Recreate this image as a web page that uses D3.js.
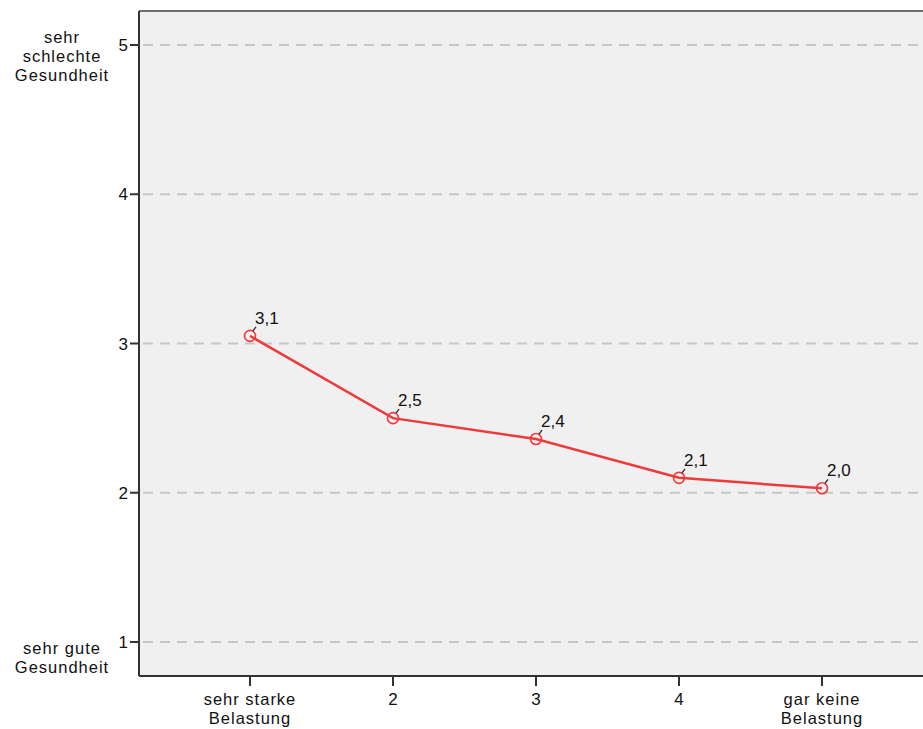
<!DOCTYPE html>
<html><head><meta charset="utf-8">
<script src="https://cdn.jsdelivr.net/npm/d3@7"></script>
<style>body{margin:0;background:#fff}svg{display:block}text{font-family:"Liberation Sans",Arial,sans-serif;font-size:17px;fill:#111}text.word{font-size:16.5px;letter-spacing:1px}</style>
</head><body>
<script>
const categories = [["sehr starke","Belastung"],["2"],["3"],["4"],["gar keine","Belastung"]];
const values = [3.051, 2.50, 2.36, 2.10, 2.03];
const yTicks = [1,2,3,4,5];
const yEndLabels = [{v:5, lines:["sehr","schlechte","Gesundheit"], dy:-2}, {v:1, lines:["sehr gute","Gesundheit"], dy:12}];

const W=923,H=729;
const svg=d3.select("body").append("svg").attr("width",W).attr("height",H);
const plot={l:139,t:11,r:945,b:676};
const x=d3.scalePoint().domain(d3.range(categories.length)).range([250,822]);
const y=d3.scaleLinear().domain([1,5]).range([642,45]);

svg.append("rect").attr("x",plot.l).attr("y",plot.t).attr("width",plot.r-plot.l).attr("height",plot.b-plot.t)
  .attr("fill","#f0f0f0");
// grid
svg.append("g").selectAll("line").data(yTicks).join("line")
  .attr("x1",plot.l+4).attr("x2",plot.r).attr("y1",d=>y(d)).attr("y2",d=>y(d))
  .attr("stroke","#c6c6c6").attr("stroke-width",2).attr("stroke-dasharray","10,7");
// frame
svg.append("line").attr("x1",plot.l).attr("x2",plot.r).attr("y1",plot.t).attr("y2",plot.t).attr("stroke","#6e6e6e").attr("stroke-width",2);
svg.append("line").attr("x1",plot.l).attr("x2",plot.r).attr("y1",plot.b).attr("y2",plot.b).attr("stroke","#333").attr("stroke-width",2);
svg.append("line").attr("x1",plot.l).attr("x2",plot.l).attr("y1",plot.t).attr("y2",plot.b).attr("stroke","#333").attr("stroke-width",2);

// y axis
const ya=svg.append("g");
ya.selectAll("line").data(yTicks).join("line").attr("x1",130).attr("x2",plot.l).attr("y1",d=>y(d)).attr("y2",d=>y(d)).attr("stroke","#333").attr("stroke-width",2);
ya.selectAll("text").data(yTicks).join("text").attr("x",128).attr("y",d=>y(d)+6).attr("text-anchor","end").text(d=>d);
yEndLabels.forEach(o=>{
  const t=svg.append("text").attr("class","word").attr("text-anchor","middle");
  o.lines.forEach((s,i)=>t.append("tspan").attr("x",62).attr("y",y(o.v)+o.dy+i*19).text(s));
});

// x axis
const xa=svg.append("g");
xa.selectAll("line").data(d3.range(categories.length)).join("line").attr("x1",d=>x(d)).attr("x2",d=>x(d)).attr("y1",plot.b).attr("y2",plot.b+10).attr("stroke","#333").attr("stroke-width",2);
xa.selectAll("text").data(categories).join("text").attr("class",d=>d.length>1?"word":null).attr("text-anchor","middle")
  .each(function(lines,i){lines.forEach((s,j)=>d3.select(this).append("tspan").attr("x",x(i)).attr("y",705+j*18.5).text(s));});

// line
const red="#ef3a3c";
svg.append("path").datum(values).attr("fill","none").attr("stroke",red).attr("stroke-width",2.5)
  .attr("d",d3.line().x((d,i)=>x(i)).y(d=>y(d)));
svg.append("g").selectAll("circle").data(values).join("circle").attr("cx",(d,i)=>x(i)).attr("cy",d=>y(d)).attr("r",5.5)
  .attr("fill","none").attr("stroke",red).attr("stroke-width",1.6);
// leaders and labels
const fmt=v=>d3.format(".1f")(v).replace(".",",");
svg.append("g").selectAll("line").data(values).join("line").attr("x1",(d,i)=>x(i)+3).attr("y1",d=>y(d)-5).attr("x2",(d,i)=>x(i)+6).attr("y2",d=>y(d)-9).attr("stroke","#222").attr("stroke-width",1.2);
svg.append("g").selectAll("text").data(values).join("text").attr("x",(d,i)=>x(i)+5).attr("y",d=>y(d)-12).text(fmt);
</script>
</body></html>
